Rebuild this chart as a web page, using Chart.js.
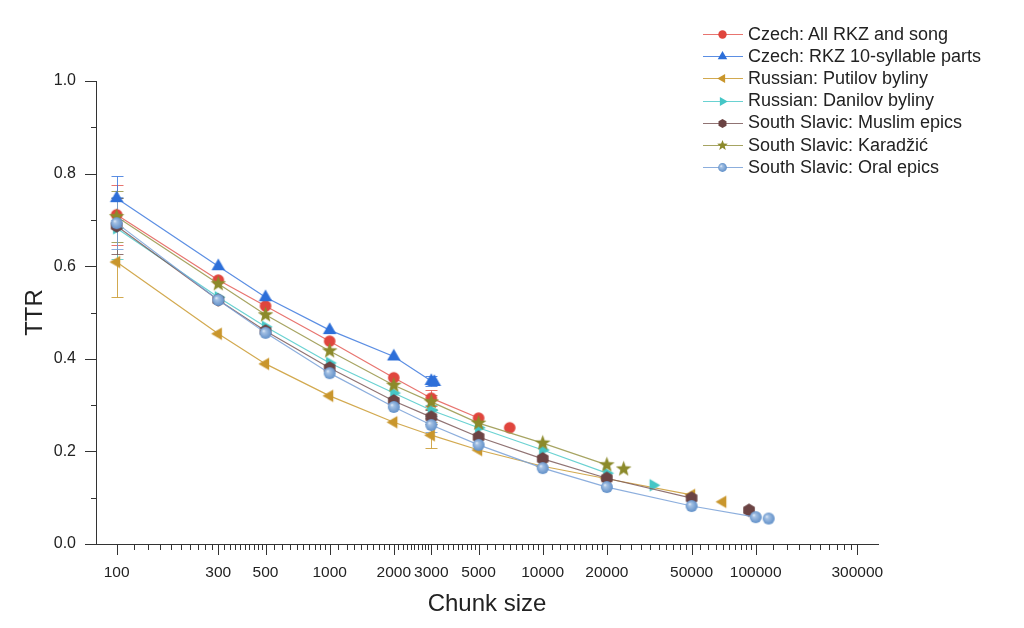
<!DOCTYPE html>
<html lang="en">
<head>
<meta charset="UTF-8">
<title>TTR by chunk size</title>
<script src="https://cdn.jsdelivr.net/npm/chart.js@4.4.1/dist/chart.umd.min.js"></script>
<style>
  html, body { margin: 0; padding: 0; background: #fff; }
  .wrap { position: relative; width: 1024px; height: 628px; }
  #legend { position: absolute; left: 703px; top: 23px; font-family: "Liberation Sans", Arial, sans-serif; font-size: 18px; color: #222; }
  .legend-item { display: flex; align-items: center; height: 22.2px; white-space: nowrap; }
  .legend-item canvas { margin-right: 5px; }
</style>
</head>
<body>
<div class="wrap">
  <canvas id="chart" width="1024" height="628"></canvas>
  <div id="legend"></div>
</div>
<script>
// tick labels
const xTickLabels = [100, 300, 500, 1000, 2000, 3000, 5000, 10000, 20000, 50000, 100000, 300000];
const yTickLabels = [0, 0.2, 0.4, 0.6, 0.8, 1.0];

const seriesNames = [
  'Czech: All RKZ and song',
  'Czech: RKZ 10-syllable parts',
  'Russian: Putilov byliny',
  'Russian: Danilov byliny',
  'South Slavic: Muslim epics',
  'South Slavic: Karadžić',
  'South Slavic: Oral epics'
];

// last point of each series = whole text, not joined by the line
const czechAllX = [100, 300, 500, 1000, 2000, 3000, 5000, 7000];
const czechAllY = [0.711, 0.570, 0.514, 0.438, 0.359, 0.315, 0.272, 0.251];
const czechAllErr = [0.065, 0, 0, 0, 0, 0.017, 0, 0];

const czechRkzX = [100, 300, 500, 1000, 2000, 3000, 3100];
const czechRkzY = [0.747, 0.600, 0.533, 0.462, 0.405, 0.352, 0.350];
const czechRkzErr = [0.048, 0, 0, 0, 0, 0.010, 0];

const putilovX = [100, 300, 500, 1000, 2000, 3000, 5000, 10000, 20000, 50000, 70000];
const putilovY = [0.609, 0.454, 0.389, 0.320, 0.263, 0.235, 0.203, 0.168, 0.141, 0.106, 0.091];
const putilovErr = [0.076, 0, 0, 0, 0, 0.028, 0, 0, 0, 0, 0];

const danilovX = [100, 300, 500, 1000, 2000, 3000, 5000, 10000, 20000, 33000];
const danilovY = [0.682, 0.533, 0.469, 0.391, 0.326, 0.289, 0.251, 0.203, 0.153, 0.127];
const danilovErr = [0.066, 0, 0, 0, 0, 0.012, 0, 0, 0, 0];

const muslimX = [100, 300, 500, 1000, 2000, 3000, 5000, 10000, 20000, 50000, 93000];
const muslimY = [0.687, 0.527, 0.460, 0.380, 0.309, 0.274, 0.231, 0.184, 0.142, 0.099, 0.073];
const muslimErr = [0.061, 0, 0, 0, 0, 0.015, 0, 0, 0, 0, 0];

const karadzicX = [100, 300, 500, 1000, 2000, 3000, 5000, 10000, 20000, 24000];
const karadzicY = [0.707, 0.562, 0.495, 0.417, 0.343, 0.307, 0.261, 0.218, 0.171, 0.162];
const karadzicErr = [0.055, 0, 0, 0, 0, 0.015, 0, 0, 0, 0];

const oralX = [100, 300, 500, 1000, 2000, 3000, 5000, 10000, 20000, 50000, 100000, 115000];
const oralY = [0.693, 0.527, 0.456, 0.369, 0.296, 0.257, 0.214, 0.164, 0.123, 0.082, 0.058, 0.055];
const oralErr = [0.056, 0, 0, 0, 0, 0.015, 0, 0, 0, 0, 0, 0];

const series = [
  { x: czechAllX, y: czechAllY, err: czechAllErr },
  { x: czechRkzX, y: czechRkzY, err: czechRkzErr },
  { x: putilovX, y: putilovY, err: putilovErr },
  { x: danilovX, y: danilovY, err: danilovErr },
  { x: muslimX, y: muslimY, err: muslimErr },
  { x: karadzicX, y: karadzicY, err: karadzicErr },
  { x: oralX, y: oralY, err: oralErr }
];

// styles
const markerColors = ['#e0453d', '#2d6fd9', '#c9962c', '#45c6c6', '#6b4343', '#8c8a2b', '#6a98cf'];
const lineColors = ['rgba(228,92,86,0.85)', 'rgba(62,122,222,0.85)', 'rgba(205,160,60,0.9)', 'rgba(90,205,205,0.9)', 'rgba(125,90,90,0.85)', 'rgba(150,148,70,0.85)', 'rgba(120,160,215,0.85)'];
const markerKinds = ['circle', 'triUp', 'triLeft', 'triRight', 'hex', 'star', 'sphere'];
const markerSizes = [5.8, 7.8, 7.2, 7.2, 6.7, 8.2, 6];
const legendSizes = [4.2, 5.5, 5.2, 5.2, 4.6, 5.6, 4.4];

function drawMarker(ctx, kind, cx, cy, r, color) {
  ctx.fillStyle = color;
  ctx.beginPath();
  if (kind === 'circle') {
    ctx.arc(cx, cy, r, 0, Math.PI * 2);
  } else if (kind.startsWith('tri')) {
    const rot = { triUp: -90, triLeft: 180, triRight: 0 }[kind] * Math.PI / 180;
    for (let k = 0; k < 3; k++) {
      const a = rot + k * 2 * Math.PI / 3;
      const px = cx + r * Math.cos(a), py = cy + r * Math.sin(a);
      if (k) ctx.lineTo(px, py); else ctx.moveTo(px, py);
    }
    ctx.closePath();
  } else if (kind === 'hex') {
    for (let k = 0; k < 6; k++) {
      const a = Math.PI / 6 + k * Math.PI / 3;
      const px = cx + r * Math.cos(a), py = cy + r * Math.sin(a);
      if (k) ctx.lineTo(px, py); else ctx.moveTo(px, py);
    }
    ctx.closePath();
  } else if (kind === 'star') {
    for (let k = 0; k < 10; k++) {
      const a = -Math.PI / 2 + k * Math.PI / 5;
      const rr = k % 2 ? r * 0.42 : r;
      const px = cx + rr * Math.cos(a), py = cy + rr * Math.sin(a);
      if (k) ctx.lineTo(px, py); else ctx.moveTo(px, py);
    }
    ctx.closePath();
  } else if (kind === 'sphere') {
    const g = ctx.createRadialGradient(cx - r * 0.35, cy - r * 0.35, 0, cx, cy, r * 1.1);
    g.addColorStop(0, '#eef4fb');
    g.addColorStop(0.25, '#a4c1e4');
    g.addColorStop(1, '#5a8bc6');
    ctx.fillStyle = g;
    ctx.arc(cx, cy, r, 0, Math.PI * 2);
  }
  ctx.fill();
}

function markerCanvas(kind, r, color) {
  const s = Math.ceil(2 * r + 4);
  const c = document.createElement('canvas');
  c.width = s; c.height = s;
  drawMarker(c.getContext('2d'), kind, s / 2, s / 2, r, color);
  return c;
}

// x ticks: labelled majors plus 9 minor ticks between each pair
const xTickValues = [];
xTickLabels.forEach((v, i) => {
  xTickValues.push(v);
  const nx = xTickLabels[i + 1];
  if (nx) for (let k = 1; k <= 9; k++) xTickValues.push(v + (nx - v) * k / 10);
});

const errorBars = {
  id: 'errorBars',
  beforeDatasetsDraw(chart) {
    const { ctx, scales: { x, y } } = chart;
    ctx.save();
    ctx.lineWidth = 1;
    chart.data.datasets.forEach(ds => {
      ctx.strokeStyle = ds.borderColor;
      ds.data.forEach((p, i) => {
        const e = ds.errors[i];
        if (!e) return;
        const px = Math.round(x.getPixelForValue(p.x)) + 0.5;
        const y1 = Math.round(y.getPixelForValue(p.y + e)) + 0.5;
        const y2 = Math.round(y.getPixelForValue(p.y - e)) + 0.5;
        ctx.beginPath();
        ctx.moveTo(px, y1); ctx.lineTo(px, y2);
        ctx.moveTo(px - 6, y1); ctx.lineTo(px + 6, y1);
        ctx.moveTo(px - 6, y2); ctx.lineTo(px + 6, y2);
        ctx.stroke();
      });
    });
    ctx.restore();
  }
};

const axisTicks = {
  id: 'axisTicks',
  afterDraw(chart) {
    const { ctx, scales: { x, y } } = chart;
    ctx.save();
    ctx.strokeStyle = '#333';
    ctx.lineWidth = 1;
    ctx.beginPath();
    y.ticks.forEach(t => {
      const py = Math.round(y.getPixelForValue(t.value)) + 0.5;
      const len = t.label ? 11 : 5;
      ctx.moveTo(y.right - len, py); ctx.lineTo(y.right, py);
    });
    x.ticks.forEach(t => {
      const px = Math.round(x.getPixelForValue(t.value)) + 0.5;
      const len = t.label ? 11 : 6;
      ctx.moveTo(px, x.top); ctx.lineTo(px, x.top + len);
    });
    ctx.stroke();
    ctx.restore();
  }
};

Chart.defaults.font.family = '"Liberation Sans", Arial, sans-serif';
Chart.defaults.color = '#222';

const chart = new Chart(document.getElementById('chart'), {
  type: 'scatter',
  data: {
    datasets: series.map((s, i) => ({
      label: seriesNames[i],
      data: s.x.map((v, j) => ({ x: v, y: s.y[j] })),
      errors: s.err,
      borderColor: lineColors[i],
      backgroundColor: markerColors[i],
      borderWidth: 1.2,
      showLine: true,
      tension: 0,
      order: series.length - i,
      pointStyle: markerCanvas(markerKinds[i], markerSizes[i], markerColors[i]),
      pointRadius: markerSizes[i],
      segment: {
        borderColor: c => c.p1DataIndex === s.x.length - 1 ? 'rgba(0,0,0,0)' : undefined
      }
    }))
  },
  options: {
    responsive: false,
    animation: false,
    events: [],
    layout: { padding: { top: 81, right: 146, bottom: 0, left: 0 } },
    plugins: { legend: { display: false }, tooltip: { enabled: false } },
    scales: {
      x: {
        type: 'logarithmic',
        min: 80,
        max: 375000,
        afterBuildTicks(scale) { scale.ticks = xTickValues.map(v => ({ value: v })); },
        afterFit(scale) { scale.height = 84; },
        grid: { drawOnChartArea: false, drawTicks: false },
        border: { display: true, color: '#333', width: 1 },
        ticks: {
          autoSkip: false, maxRotation: 0, minRotation: 0, padding: 19,
          font: { size: 15.5 },
          callback: v => xTickLabels.includes(v) ? String(v) : ''
        },
        title: { display: true, text: 'Chunk size', font: { size: 24 }, padding: { top: 0, bottom: 9 } }
      },
      y: {
        type: 'linear',
        min: 0,
        max: 1,
        afterFit(scale) { scale.width = 96; },
        grid: { drawOnChartArea: false, drawTicks: false },
        border: { display: true, color: '#333', width: 1 },
        ticks: {
          stepSize: 0.1, padding: 20,
          font: { size: 16 },
          callback: v => yTickLabels.some(t => Math.abs(t - v) < 1e-9) ? v.toFixed(1) : ''
        },
        title: { display: true, text: 'TTR', font: { size: 24 }, padding: { top: 21, bottom: 0 } }
      }
    }
  },
  plugins: [errorBars, axisTicks]
});

// legend
const legendEl = document.getElementById('legend');
chart.data.datasets.forEach((ds, i) => {
  const row = document.createElement('div');
  row.className = 'legend-item';
  const c = document.createElement('canvas');
  c.width = 40; c.height = 22;
  const g = c.getContext('2d');
  g.strokeStyle = lineColors[i];
  g.lineWidth = 1.2;
  g.beginPath(); g.moveTo(0, 11.5); g.lineTo(40, 11.5); g.stroke();
  drawMarker(g, markerKinds[i], 19.5, 11.5, legendSizes[i], markerColors[i]);
  const span = document.createElement('span');
  span.textContent = ds.label;
  row.appendChild(c);
  row.appendChild(span);
  legendEl.appendChild(row);
});
</script>
</body>
</html>
